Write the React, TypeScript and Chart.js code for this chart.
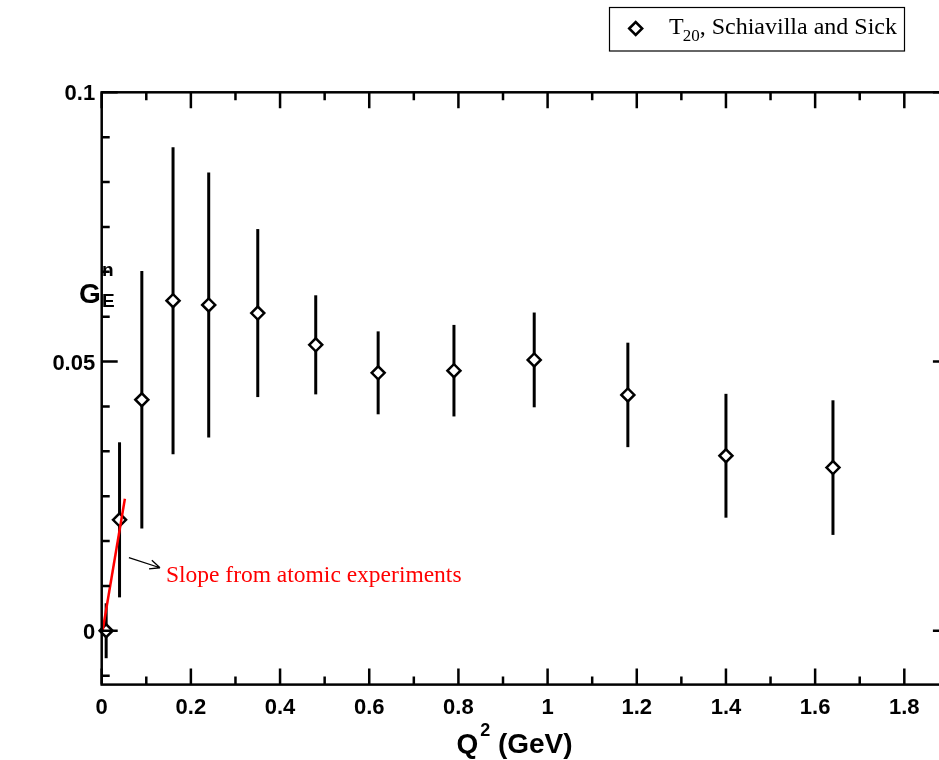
import React, { useEffect, useRef } from 'react';
import { Chart, registerables } from 'chart.js';

Chart.register(...registerables);

// ---- data ----
const Q2 = [0.01, 0.04, 0.09, 0.16, 0.24, 0.35, 0.48, 0.62, 0.79, 0.97, 1.18, 1.40, 1.64];
const GEN = [0.0, 0.0206, 0.0429, 0.0613, 0.0605, 0.059, 0.0531, 0.0479, 0.0483, 0.0503, 0.0438, 0.0325, 0.0303];
const GEN_ERR = [0.0051, 0.0144, 0.0239, 0.0285, 0.0246, 0.0156, 0.0092, 0.0077, 0.0085, 0.0088, 0.0097, 0.0115, 0.0125];
const SLOPE_X = [0.002, 0.052];
const SLOPE_Y = [0.0, 0.0245];

const X_MAJOR = [0, 0.2, 0.4, 0.6, 0.8, 1.0, 1.2, 1.4, 1.6, 1.8];
const X_LABELS = ['0', '0.2', '0.4', '0.6', '0.8', '1', '1.2', '1.4', '1.6', '1.8'];
const Y_MAJOR = [0, 0.05, 0.1];
const Y_LABELS = ['0', '0.05', '0.1'];
const X_MIN = 0, X_MAX = 1.9, Y_MIN = -0.01, Y_MAX = 0.1;
const X_MINOR_STEP = 0.1;
const Y_MINOR_STEP = 0.05 / 6;

const LEGEND_LABEL_MAIN = 'T';
const LEGEND_LABEL_SUB = '20';
const LEGEND_LABEL_REST = ', Schiavilla and Sick';
const ANNOTATION = 'Slope from atomic experiments';
// annotation anchor (data coordinates)
const ARROW_FROM = { x: 0.061, y: 0.0136 };
const ARROW_TO = { x: 0.1307, y: 0.0117 };
const ANNOT_POS = { x: 0.144, y: 0.0091 };

const SANS = '"Liberation Sans", Arial, Helvetica, sans-serif';
const SERIF = '"Liberation Serif", "Times New Roman", Times, serif';

function diamond(ctx: CanvasRenderingContext2D, cx: number, cy: number, r: number) {
  ctx.beginPath();
  ctx.moveTo(cx - r, cy);
  ctx.lineTo(cx, cy - r);
  ctx.lineTo(cx + r, cy);
  ctx.lineTo(cx, cy + r);
  ctx.closePath();
  ctx.fillStyle = '#fff';
  ctx.fill();
  ctx.lineWidth = 2.5;
  ctx.strokeStyle = '#000';
  ctx.stroke();
}

const framePlugin = {
  id: 'gracelikeFrame',
  beforeDatasetsDraw(chart: any) {
    const { ctx, scales } = chart;
    const x = scales.x, y = scales.y;
    ctx.save();
    ctx.strokeStyle = '#000';
    ctx.lineWidth = 3;
    Q2.forEach((q, i) => {
      const px = x.getPixelForValue(q);
      ctx.beginPath();
      ctx.moveTo(px, y.getPixelForValue(GEN[i] - GEN_ERR[i]));
      ctx.lineTo(px, y.getPixelForValue(GEN[i] + GEN_ERR[i]));
      ctx.stroke();
    });
    ctx.restore();
  },
  afterDatasetsDraw(chart: any) {
    const { ctx, scales, chartArea } = chart;
    const x = scales.x, y = scales.y;
    const { left, right, top, bottom } = chartArea;
    ctx.save();
    ctx.strokeStyle = '#000';
    ctx.lineWidth = 2.5;
    ctx.strokeRect(left, top, right - left, bottom - top);

    // x ticks (inward, bottom and top)
    const nx = Math.round((X_MAX - X_MIN) / X_MINOR_STEP);
    for (let k = 0; k <= nx; k++) {
      const v = X_MIN + k * X_MINOR_STEP;
      const major = k % 2 === 0;
      const len = major ? 16 : 8;
      const px = x.getPixelForValue(v);
      ctx.beginPath();
      ctx.moveTo(px, bottom);
      ctx.lineTo(px, bottom - len);
      ctx.moveTo(px, top);
      ctx.lineTo(px, top + len);
      ctx.stroke();
    }
    // y ticks (inward, left and right)
    const kMin = Math.ceil(Y_MIN / Y_MINOR_STEP - 1e-6);
    const kMax = Math.floor(Y_MAX / Y_MINOR_STEP + 1e-6);
    for (let k = kMin; k <= kMax; k++) {
      const v = k * Y_MINOR_STEP;
      const major = k % 6 === 0;
      const len = major ? 16 : 8;
      const py = y.getPixelForValue(v);
      ctx.beginPath();
      ctx.moveTo(left, py);
      ctx.lineTo(left + len, py);
      ctx.moveTo(right, py);
      ctx.lineTo(right - len, py);
      ctx.stroke();
    }

    // tick labels
    ctx.fillStyle = '#000';
    ctx.font = `bold 22px ${SANS}`;
    ctx.textAlign = 'center';
    ctx.textBaseline = 'alphabetic';
    X_MAJOR.forEach((v, i) => {
      ctx.fillText(X_LABELS[i], x.getPixelForValue(v), bottom + 29);
    });
    ctx.textAlign = 'right';
    Y_MAJOR.forEach((v, i) => {
      ctx.fillText(Y_LABELS[i], left - 6.5, y.getPixelForValue(v) + 8);
    });

    // x axis title: Q^2 (GeV)
    ctx.textAlign = 'left';
    ctx.font = `bold 28px ${SANS}`;
    const q = 'Q';
    const rest = ' (GeV)';
    ctx.font = `bold 28px ${SANS}`;
    const wq = ctx.measureText(q).width;
    const wr = ctx.measureText(rest).width;
    ctx.font = `bold 18px ${SANS}`;
    const w2 = ctx.measureText('2').width + 2;
    const total = wq + w2 + wr;
    let tx = 514.5 - total / 2;
    const tb = 753;
    ctx.font = `bold 28px ${SANS}`;
    ctx.fillText(q, tx, tb);
    tx += wq + 2;
    ctx.font = `bold 18px ${SANS}`;
    ctx.fillText('2', tx, tb - 17);
    tx += w2 - 2;
    ctx.font = `bold 28px ${SANS}`;
    ctx.fillText(rest, tx, tb);

    // y axis title: G_E^n
    ctx.font = `bold 28px ${SANS}`;
    ctx.fillText('G', 79, 303);
    ctx.font = `bold 19px ${SANS}`;
    ctx.fillText('n', 102, 276);
    ctx.fillText('E', 102, 307);

    // annotation arrow + text
    const ax0 = x.getPixelForValue(ARROW_FROM.x), ay0 = y.getPixelForValue(ARROW_FROM.y);
    const ax1 = x.getPixelForValue(ARROW_TO.x), ay1 = y.getPixelForValue(ARROW_TO.y);
    ctx.lineWidth = 1.3;
    ctx.beginPath();
    ctx.moveTo(ax0, ay0);
    ctx.lineTo(ax1, ay1);
    const ang = Math.atan2(ay1 - ay0, ax1 - ax0);
    const hl = 11, ha = 0.42;
    ctx.moveTo(ax1, ay1);
    ctx.lineTo(ax1 - hl * Math.cos(ang - ha), ay1 - hl * Math.sin(ang - ha));
    ctx.moveTo(ax1, ay1);
    ctx.lineTo(ax1 - hl * Math.cos(ang + ha), ay1 - hl * Math.sin(ang + ha));
    ctx.stroke();
    ctx.fillStyle = '#ff0000';
    ctx.font = `23.5px ${SERIF}`;
    ctx.textAlign = 'left';
    ctx.fillText(ANNOTATION, x.getPixelForValue(ANNOT_POS.x), y.getPixelForValue(ANNOT_POS.y));

    // legend
    ctx.fillStyle = '#fff';
    ctx.fillRect(609.5, 7.5, 295, 43.5);
    ctx.strokeStyle = '#000';
    ctx.lineWidth = 1.2;
    ctx.strokeRect(609.5, 7.5, 295, 43.5);
    diamond(ctx, 635.7, 28.5, 6.5);
    ctx.fillStyle = '#000';
    ctx.font = `24px ${SERIF}`;
    let lx = 669;
    ctx.fillText(LEGEND_LABEL_MAIN, lx, 34);
    lx += ctx.measureText(LEGEND_LABEL_MAIN).width - 1;
    ctx.font = `17px ${SERIF}`;
    ctx.fillText(LEGEND_LABEL_SUB, lx, 41);
    lx += ctx.measureText(LEGEND_LABEL_SUB).width;
    ctx.font = `24px ${SERIF}`;
    ctx.fillText(LEGEND_LABEL_REST, lx, 34);

    ctx.restore();
  },
};

export default function App() {
  const ref = useRef<HTMLCanvasElement>(null);
  useEffect(() => {
    document.body.style.margin = '0';
    document.body.style.overflow = 'hidden';
    const chart = new Chart(ref.current as HTMLCanvasElement, {
      type: 'scatter',
      data: {
        datasets: [
          {
            type: 'line',
            label: 'slope',
            data: SLOPE_X.map((vx, i) => ({ x: vx, y: SLOPE_Y[i] })),
            borderColor: '#ff0000',
            borderWidth: 2.5,
            pointRadius: 0,
            showLine: true,
            fill: false,
            clip: false,
          } as any,
          {
            label: 'T20, Schiavilla and Sick',
            data: Q2.map((vx, i) => ({ x: vx, y: GEN[i] })),
            pointStyle: 'rectRot',
            pointRadius: 6.5,
            pointBorderWidth: 2.5,
            borderColor: '#000',
            backgroundColor: '#fff',
            pointBackgroundColor: '#fff',
            pointBorderColor: '#000',
            showLine: false,
            clip: false,
          } as any,
        ],
      },
      options: {
        responsive: false,
        animation: false,
        devicePixelRatio: 1,
        events: [],
        layout: { padding: { left: 101.7, top: 92.3, right: 11.1, bottom: 75.4 } },
        plugins: { legend: { display: false }, tooltip: { enabled: false } },
        scales: {
          x: { type: 'linear', min: X_MIN, max: X_MAX, display: false },
          y: { type: 'linear', min: Y_MIN, max: Y_MAX, display: false },
        },
      },
      plugins: [framePlugin],
    });
    return () => chart.destroy();
  }, []);
  return <canvas ref={ref} width={960} height={760} style={{ display: 'block', width: 960, height: 760 }} />;
}
